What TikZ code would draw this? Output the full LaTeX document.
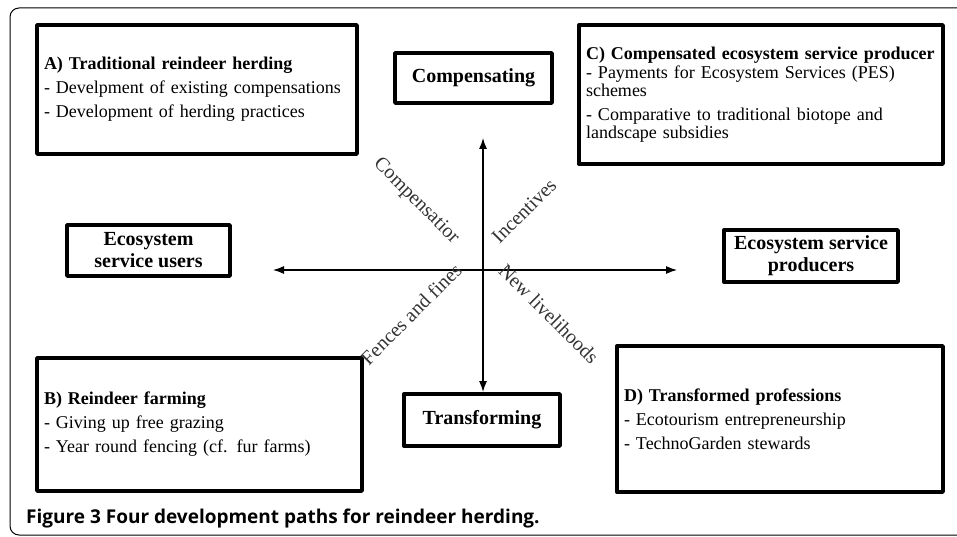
\documentclass[tikz,border=0pt]{standalone}
\usepackage{fontspec}
\setmainfont{Liberation Serif}
\newfontfamily\capfont{Open Sans}
\usetikzlibrary{arrows.meta}
\begin{document}
\begin{tikzpicture}[x=1pt,y=-1pt,>={Latex[length=11pt,width=8pt]},line join=round,line cap=round,
	pathbox/.style={draw,line width=3.4pt,inner xsep=6pt,align=left,font=\fontsize{18}{18}\selectfont},
	axisbox/.style={draw,line width=3.4pt,align=center,font=\fontsize{20}{20}\selectfont\bfseries},
	flowlabel/.style={inner sep=0pt,font=\fontsize{20}{20}\selectfont,text=black!80}]
	% Khung
	\useasboundingbox (0,0) rectangle (957,537);
	\begin{scope}
		\clip (0,0) rectangle (957,537);
		\draw [line width=1pt,rounded corners=9pt] (10,8) rectangle (980,535);
	\end{scope}
	% Bốn hướng phát triển
	\node [pathbox,minimum width=320,minimum height=129,text width=306] (trad) at (197,89.5)
		{\textbf{A) Traditional reindeer herding}\\[6pt]
		- Develpment of existing compensations\\[6pt]
		- Development of herding practices};
	\node [pathbox,minimum width=364,minimum height=139,text width=350] (pes) at (761,94.5)
		{\textbf{C) Compensated ecosystem service producer}\\[1pt]
		- Payments for Ecosystem Services (PES)\\schemes\\[6pt]
		- Comparative to traditional biotope and\\landscape subsidies};
	\node [pathbox,minimum width=325,minimum height=133,text width=311] (farm) at (199.5,424.5)
		{\textbf{B) Reindeer farming}\\[6pt]
		- Giving up free grazing\\[6pt]
		- Year round fencing (cf. fur farms)};
	\node [pathbox,minimum width=326,minimum height=146,text width=312] (prof) at (780,419)
		{\textbf{D) Transformed professions}\\[6pt]
		- Ecotourism entrepreneurship\\[6pt]
		- TechnoGarden stewards};
	% Các trục
	\node [axisbox,minimum width=157,minimum height=50] (comp) at (473.5,78) {Compensating};
	\node [axisbox,minimum width=156,minimum height=52] (trans) at (482,420) {Transforming};
	\node [axisbox,minimum width=163,minimum height=51] (users) at (148.5,250.5) {Ecosystem\\[2pt]service users};
	\node [axisbox,minimum width=174,minimum height=52] (prod) at (811,256) {Ecosystem service\\[2pt]producers};
	\coordinate (wtip) at (273,270);
	\coordinate (etip) at (677,270);
	\coordinate (ntip) at (483,138);
	\coordinate (stip) at (483,392);
	\draw [<->,line width=1.2pt] (wtip)--(etip);
	\draw [<->,line width=1.2pt] (ntip)--(stip);
	% Nhãn chéo
	\node [flowlabel,rotate=-45] (lcomp) at (416,201) {Compensatior};
	\node [flowlabel,rotate=45] (linc) at (524,211) {Incentives};
	\node [flowlabel,rotate=45] (lfen) at (411,314) {Fences and fines};
	\node [flowlabel,rotate=-45] (lnew) at (549,314) {New livelihoods};
	% Chú thích
	\node [anchor=west,inner sep=0pt,font=\capfont\fontsize{19}{19}\selectfont\bfseries] (cap) at (26,519)
		{Figure 3 Four development paths for reindeer herding.};
\end{tikzpicture}
\end{document}
